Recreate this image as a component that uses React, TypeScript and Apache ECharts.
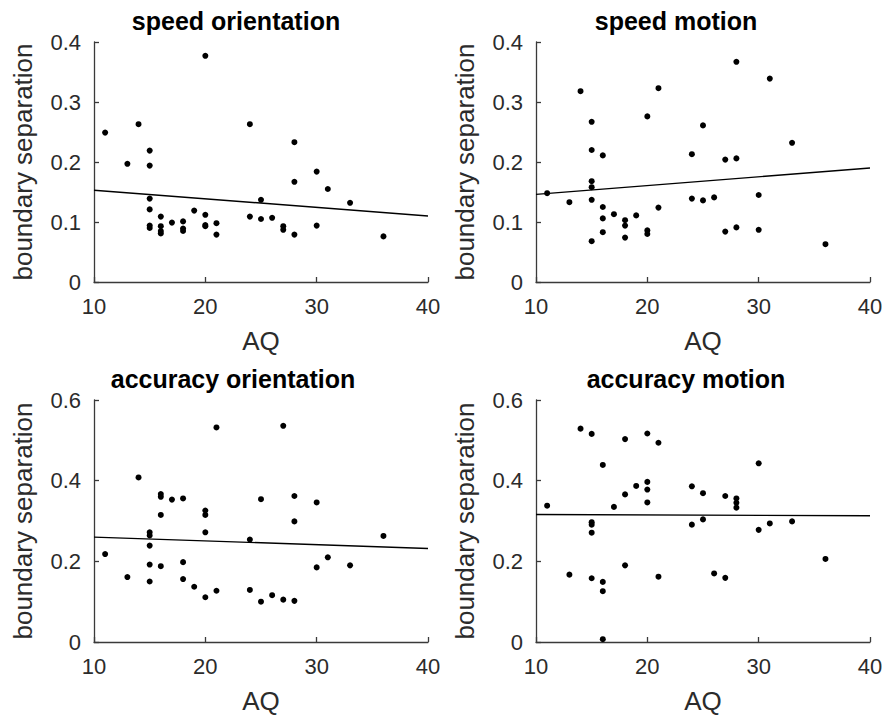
import React, { useEffect, useRef } from 'react';
import * as echarts from 'echarts';

// ---- data (AQ, boundary separation) ----
const speedOrientationPoints = [
  [11, 0.249], [13, 0.197], [14, 0.263], [15, 0.219], [15, 0.194], [15, 0.139], [15, 0.121], [15, 0.094], [15, 0.090],
  [16, 0.109], [16, 0.093], [16, 0.085], [16, 0.081], [17, 0.099], [18, 0.101], [18, 0.089], [18, 0.085], [19, 0.119],
  [20, 0.377], [20, 0.112], [20, 0.095], [20, 0.093], [21, 0.098], [21, 0.079], [24, 0.263], [24, 0.109], [25, 0.137],
  [25, 0.105], [26, 0.107], [27, 0.093], [27, 0.087], [28, 0.233], [28, 0.167], [28, 0.079], [30, 0.184], [30, 0.094],
  [31, 0.155], [33, 0.132], [36, 0.076],
];
const speedMotionPoints = [
  [11, 0.148], [13, 0.133], [14, 0.318], [15, 0.267], [15, 0.220], [15, 0.168], [15, 0.158], [15, 0.137], [15, 0.068],
  [16, 0.211], [16, 0.125], [16, 0.106], [16, 0.083], [17, 0.113], [18, 0.103], [18, 0.094], [18, 0.074], [19, 0.111],
  [20, 0.276], [20, 0.086], [20, 0.080], [21, 0.323], [21, 0.124], [24, 0.213], [24, 0.139], [25, 0.261], [25, 0.136],
  [26, 0.141], [27, 0.204], [27, 0.084], [28, 0.367], [28, 0.206], [28, 0.091], [30, 0.145], [30, 0.087], [31, 0.339],
  [33, 0.232], [36, 0.063],
];
const accuracyOrientationPoints = [
  [11, 0.218], [13, 0.161], [14, 0.408], [15, 0.272], [15, 0.264], [15, 0.239], [15, 0.192], [15, 0.150],
  [16, 0.367], [16, 0.360], [16, 0.315], [16, 0.188], [17, 0.353], [18, 0.356], [18, 0.198], [18, 0.156], [19, 0.137],
  [20, 0.326], [20, 0.315], [20, 0.272], [20, 0.111], [21, 0.532], [21, 0.127], [24, 0.254], [24, 0.129], [25, 0.354],
  [25, 0.100], [26, 0.116], [27, 0.536], [27, 0.105], [28, 0.362], [28, 0.299], [28, 0.102], [30, 0.346], [30, 0.185],
  [31, 0.210], [33, 0.190], [36, 0.263],
];
const accuracyMotionPoints = [
  [11, 0.338], [13, 0.167], [14, 0.529], [15, 0.516], [15, 0.297], [15, 0.291], [15, 0.271], [15, 0.158],
  [16, 0.439], [16, 0.149], [16, 0.126], [16, 0.007], [17, 0.335], [18, 0.503], [18, 0.366], [18, 0.190], [19, 0.387],
  [20, 0.517], [20, 0.397], [20, 0.378], [20, 0.346], [21, 0.494], [21, 0.162], [24, 0.386], [24, 0.291], [25, 0.369],
  [25, 0.304], [26, 0.170], [27, 0.362], [27, 0.159], [28, 0.356], [28, 0.345], [28, 0.333], [30, 0.443], [30, 0.278],
  [31, 0.294], [33, 0.299], [36, 0.206],
];

// fitted regression lines (endpoints)
const speedOrientationFit = [[10, 0.153], [40, 0.110]];
const speedMotionFit = [[10, 0.146], [40, 0.190]];
const accuracyOrientationFit = [[10, 0.260], [40, 0.232]];
const accuracyMotionFit = [[10, 0.316], [40, 0.313]];

const panelTitles = ['speed orientation', 'speed motion', 'accuracy orientation', 'accuracy motion'];
const panelPoints = [speedOrientationPoints, speedMotionPoints, accuracyOrientationPoints, accuracyMotionPoints];
const panelFits = [speedOrientationFit, speedMotionFit, accuracyOrientationFit, accuracyMotionFit];
const yMaxes = [0.4, 0.4, 0.6, 0.6];
const yIntervals = [0.1, 0.1, 0.2, 0.2];
const xMin = 10;
const xMax = 40;
const xInterval = 10;
const xAxisName = 'AQ';
const yAxisName = 'boundary separation';

const grids = [
  { left: 94, top: 42, width: 334, height: 240 },
  { left: 536, top: 42, width: 334, height: 240 },
  { left: 94, top: 400, width: 334, height: 242 },
  { left: 536, top: 400, width: 334, height: 242 },
];
const titlePos = [
  { x: 236, y: 8 },
  { x: 676, y: 8 },
  { x: 233, y: 366 },
  { x: 686, y: 366 },
];

const FONT = '"Liberation Sans", Arial, Helvetica, sans-serif';
const AXIS_COLOR = '#3a3a3a';
const TEXT_COLOR = '#2b2b2b';

export default function App() {
  const ref = useRef<HTMLDivElement>(null);
  useEffect(() => {
    const chart = echarts.init(ref.current as HTMLDivElement, null, { renderer: 'svg' });
    const option: any = {
      animation: false,
      backgroundColor: '#ffffff',
      textStyle: { fontFamily: FONT },
      title: panelTitles.map((t, i) => ({
        text: t,
        left: titlePos[i].x,
        top: titlePos[i].y,
        textAlign: 'center',
        padding: 0,
        textStyle: { fontFamily: FONT, fontWeight: 'bold', fontSize: 25, color: '#000' },
      })),
      grid: grids.map((g) => ({ ...g, containLabel: false })),
      xAxis: grids.map((_, i) => ({
        type: 'value',
        gridIndex: i,
        min: xMin,
        max: xMax,
        interval: xInterval,
        name: xAxisName,
        nameLocation: 'middle',
        nameGap: 46,
        nameTextStyle: { fontFamily: FONT, fontSize: 26, color: TEXT_COLOR },
        axisLine: { show: true, onZero: false, lineStyle: { color: AXIS_COLOR, width: 1.3 } },
        axisTick: { show: true, inside: true, length: 5, lineStyle: { color: AXIS_COLOR, width: 1.3 } },
        axisLabel: { fontFamily: FONT, fontSize: 22, color: TEXT_COLOR, margin: 13 },
        splitLine: { show: false },
      })),
      yAxis: grids.map((_, i) => ({
        type: 'value',
        gridIndex: i,
        min: 0,
        max: yMaxes[i],
        interval: yIntervals[i],
        name: yAxisName,
        nameLocation: 'middle',
        nameGap: 58,
        nameTextStyle: { fontFamily: FONT, fontSize: 26, color: TEXT_COLOR },
        axisLine: { show: true, onZero: false, lineStyle: { color: AXIS_COLOR, width: 1.3 } },
        axisTick: { show: true, inside: true, length: 5, lineStyle: { color: AXIS_COLOR, width: 1.3 } },
        axisLabel: {
          fontFamily: FONT,
          fontSize: 22,
          color: TEXT_COLOR,
          margin: 13,
          formatter: (v: number) => (v === 0 ? '0' : v.toFixed(1)),
        },
        splitLine: { show: false },
      })),
      series: [
        ...panelFits.map((fit, i) => ({
          type: 'line',
          xAxisIndex: i,
          yAxisIndex: i,
          data: fit,
          symbol: 'none',
          silent: true,
          lineStyle: { color: '#000', width: 1.4 },
          z: 2,
        })),
        ...panelPoints.map((pts, i) => ({
          type: 'scatter',
          xAxisIndex: i,
          yAxisIndex: i,
          data: pts,
          symbol: 'circle',
          symbolSize: 6,
          itemStyle: { color: '#000', opacity: 1 },
          z: 3,
        })),
      ],
    };
    chart.setOption(option);
    return () => chart.dispose();
  }, []);
  return (
    <div
      ref={ref}
      style={{ position: 'absolute', left: 0, top: 0, width: 886, height: 719, background: '#fff' }}
    />
  );
}
